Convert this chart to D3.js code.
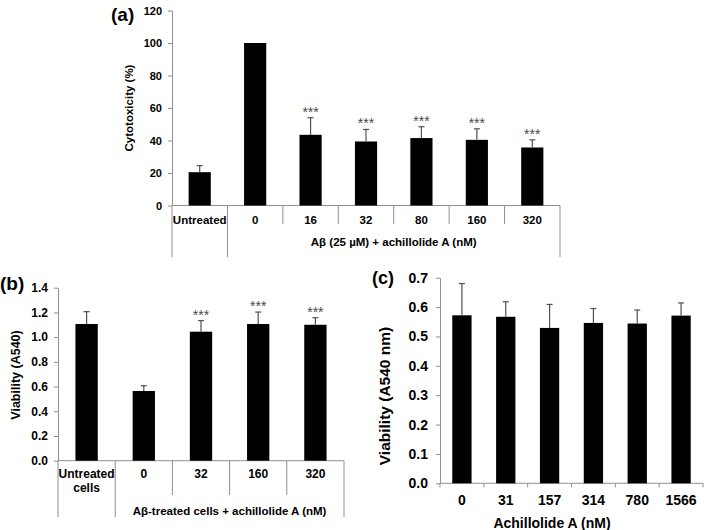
<!DOCTYPE html>
<html>
<head>
<meta charset="utf-8">
<script src="https://cdn.jsdelivr.net/npm/d3@7"></script>
<style>
	body { margin: 0; background: #fff; }
	svg { display: block; font-family: Arial, "Liberation Sans", sans-serif; font-weight: bold; }
</style>
</head>
<body>
<svg id="chart" width="708" height="530"></svg>
<script>
// panel (a): cytotoxicity
var catsA = ["Untreated", "0", "16", "32", "80", "160", "320"];
var valsA = [20.5, 100, 43.5, 39.4, 41.5, 40.4, 35.7];
var errsA = [4, 0, 10.5, 7.4, 7, 6.8, 4.7];
var starsA = ["", "", "***", "***", "***", "***", "***"];
var ticksA = [0, 20, 40, 60, 80, 100, 120];

// panel (b): viability with Abeta
var catsB = [["Untreated", "cells"], ["0"], ["32"], ["160"], ["320"]];
var valsB = [1.106, 0.564, 1.044, 1.106, 1.10];
var errsB = [0.10, 0.043, 0.09, 0.097, 0.057];
var starsB = ["", "", "***", "***", "***"];
var ticksB = [0, 0.2, 0.4, 0.6, 0.8, 1.0, 1.2, 1.4];

// panel (c): viability, achillolide A alone
var catsC = ["0", "31", "157", "314", "780", "1566"];
var valsC = [0.572, 0.567, 0.529, 0.546, 0.544, 0.571];
var errsC = [0.108, 0.051, 0.08, 0.049, 0.046, 0.043];
var ticksC = [0, 0.1, 0.2, 0.3, 0.4, 0.5, 0.6, 0.7];

var axisColor = "#8f8f8f",
	errColor = "#505050";

var svg = d3.select("#chart");

var barPanel = function (opts) {
	var g = svg.append("g");
	var idx = d3.range(opts.vals.length);
	var x = d3.scaleBand().domain(idx).range(opts.xRange)
		.paddingInner(opts.pad).paddingOuter(opts.pad / 2);
	var y = d3.scaleLinear().domain(opts.yDomain).range(opts.yRange);

	var yAxis = g.append("g")
		.attr("transform", "translate(" + opts.xRange[0] + ",0)")
		.call(d3.axisLeft(y).tickValues(opts.ticks).tickSize(4).tickSizeOuter(0)
			.tickPadding(opts.tickPad || 6).tickFormat(d3.format(opts.fmt)));
	yAxis.selectAll("path, line").attr("stroke", axisColor);
	yAxis.selectAll("text").attr("fill", "#000")
		.style("font-size", opts.tickFont + "px").style("font-family", "inherit");

	// x baseline
	g.append("line")
		.attr("x1", opts.xRange[0]).attr("x2", opts.xRange[1])
		.attr("y1", y(0)).attr("y2", y(0))
		.attr("stroke", axisColor);

	g.selectAll(".bar").data(idx).enter().append("rect")
		.attr("class", "bar")
		.attr("x", function (i) { return x(i); })
		.attr("width", x.bandwidth())
		.attr("y", function (i) { return y(opts.vals[i]); })
		.attr("height", function (i) { return y(0) - y(opts.vals[i]); })
		.attr("fill", "#000");

	var capW = 3;
	var eb = g.selectAll(".err").data(idx.filter(function (i) { return opts.errs[i] > 0; }))
		.enter().append("g").attr("class", "err")
		.attr("stroke", errColor).attr("stroke-width", 1.2);
	eb.append("line")
		.attr("x1", function (i) { return x(i) + x.bandwidth() / 2; })
		.attr("x2", function (i) { return x(i) + x.bandwidth() / 2; })
		.attr("y1", function (i) { return y(opts.vals[i]); })
		.attr("y2", function (i) { return y(opts.vals[i] + opts.errs[i]); });
	eb.append("line")
		.attr("x1", function (i) { return x(i) + x.bandwidth() / 2 - capW; })
		.attr("x2", function (i) { return x(i) + x.bandwidth() / 2 + capW; })
		.attr("y1", function (i) { return y(opts.vals[i] + opts.errs[i]); })
		.attr("y2", function (i) { return y(opts.vals[i] + opts.errs[i]); });

	if (opts.stars) {
		g.selectAll(".star").data(idx.filter(function (i) { return opts.stars[i]; }))
			.enter().append("text")
			.attr("class", "star")
			.attr("x", function (i) { return x(i) + x.bandwidth() / 2; })
			.attr("y", function (i) { return y(opts.vals[i] + opts.errs[i]) - 1; })
			.attr("text-anchor", "middle")
			.style("font-size", "14px")
			.style("font-weight", "normal")
			.attr("fill", "#4a4a4a")
			.text(function (i) { return opts.stars[i]; });
	}

	// y title
	g.append("text")
		.attr("transform", "translate(" + opts.yTitlePos[0] + "," + opts.yTitlePos[1] + ") rotate(-90)")
		.attr("text-anchor", "middle")
		.attr("dy", "0.35em")
		.style("font-size", opts.yTitleFont + "px")
		.text(opts.yTitle);

	// panel letter
	g.append("text")
		.attr("x", opts.letterPos[0]).attr("y", opts.letterPos[1])
		.attr("dy", "0.35em")
		.style("font-size", opts.letterFont + "px")
		.text(opts.letter);

	return { g: g, x: x, y: y };
};

// two-level category axis, like the spreadsheet one
var groupAxis = function (p, opts) {
	var x = p.x, y0 = p.y(0), n = x.domain().length;
	var r0 = x.range()[0], step = x.step();
	d3.range(n + 1).forEach(function (i) {
		var long = i === 0 || i === 1 || i === n;
		p.g.append("line")
			.attr("x1", r0 + i * step).attr("x2", r0 + i * step)
			.attr("y1", y0).attr("y2", long ? opts.longY : opts.shortY)
			.attr("stroke", axisColor);
	});
	var lab = p.g.selectAll(".xlab").data(opts.cats).enter().append("text")
		.attr("class", "xlab")
		.attr("text-anchor", "middle")
		.style("font-size", opts.font + "px")
		.attr("transform", function (d, i) {
			return "translate(" + (x(i) + x.bandwidth() / 2) + "," + opts.labY + ")";
		});
	lab.selectAll("tspan").data(function (d) { return Array.isArray(d) ? d : [d]; })
		.enter().append("tspan")
		.attr("x", 0)
		.attr("dy", function (d, k) { return k === 0 ? "0.35em" : opts.lineH + "px"; })
		.text(function (d) { return d; });
	p.g.append("text")
		.attr("x", (r0 + step + x.range()[1]) / 2)
		.attr("y", opts.groupY)
		.attr("dy", "0.35em")
		.attr("text-anchor", "middle")
		.style("font-size", opts.groupFont + "px")
		.text(opts.group);
};

var pa = barPanel({
	vals: valsA, errs: errsA, stars: starsA, ticks: ticksA, fmt: "d",
	xRange: [172, 560], yRange: [205.5, 10.5], yDomain: [0, 120], pad: 0.6,
	tickFont: 11, yTitle: "Cytotoxicity (%)", yTitlePos: [129, 108], yTitleFont: 11.5,
	letter: "(a)", letterPos: [111, 14], letterFont: 19
});
groupAxis(pa, {
	cats: catsA, font: 11.5, labY: 219.5, lineH: 13, longY: 257, shortY: 224,
	group: "A\u03b2 (25 \u00b5M) + achillolide A  (nM)", groupY: 241.5, groupFont: 11.5
});

var pb = barPanel({
	vals: valsB, errs: errsB, stars: starsB, ticks: ticksB, fmt: ".1f",
	xRange: [58, 344], yRange: [460.7, 287.7], yDomain: [0, 1.4], pad: 0.61,
	tickFont: 12, yTitle: "Viability (A540)", yTitlePos: [16, 375], yTitleFont: 12.5,
	letter: "(b)", letterPos: [0, 283], letterFont: 19
});
groupAxis(pb, {
	cats: catsB, font: 12, labY: 474, lineH: 13.5, longY: 517, shortY: 495,
	group: "A\u03b2-treated cells + achillolide A (nM)", groupY: 510.5, groupFont: 11.5
});

var pc = barPanel({
	vals: valsC, errs: errsC, ticks: ticksC, fmt: ".1f",
	xRange: [440, 703], yRange: [483.3, 277.7], yDomain: [0, 0.7], pad: 0.56,
	tickFont: 14, tickPad: 8, yTitle: "Viability (A540 nm)", yTitlePos: [385, 396], yTitleFont: 15.5,
	letter: "(c)", letterPos: [372, 278], letterFont: 18
});
(function () {
	var x = pc.x, y0 = pc.y(0), r0 = x.range()[0], step = x.step();
	pc.g.selectAll(".xtick").data(d3.range(catsC.length + 1)).enter().append("line")
		.attr("class", "xtick")
		.attr("x1", function (i) { return r0 + i * step; })
		.attr("x2", function (i) { return r0 + i * step; })
		.attr("y1", y0).attr("y2", y0 + 4)
		.attr("stroke", axisColor);
	pc.g.selectAll(".xlab").data(catsC).enter().append("text")
		.attr("class", "xlab")
		.attr("x", function (d, i) { return x(i) + x.bandwidth() / 2; })
		.attr("y", 500)
		.attr("dy", "0.35em")
		.attr("text-anchor", "middle")
		.style("font-size", "14px")
		.text(function (d) { return d; });
	pc.g.append("text")
		.attr("x", 552).attr("y", 523)
		.attr("dy", "0.35em")
		.attr("text-anchor", "middle")
		.style("font-size", "14px")
		.text("Achillolide A (nM)");
})();
</script>
</body>
</html>
